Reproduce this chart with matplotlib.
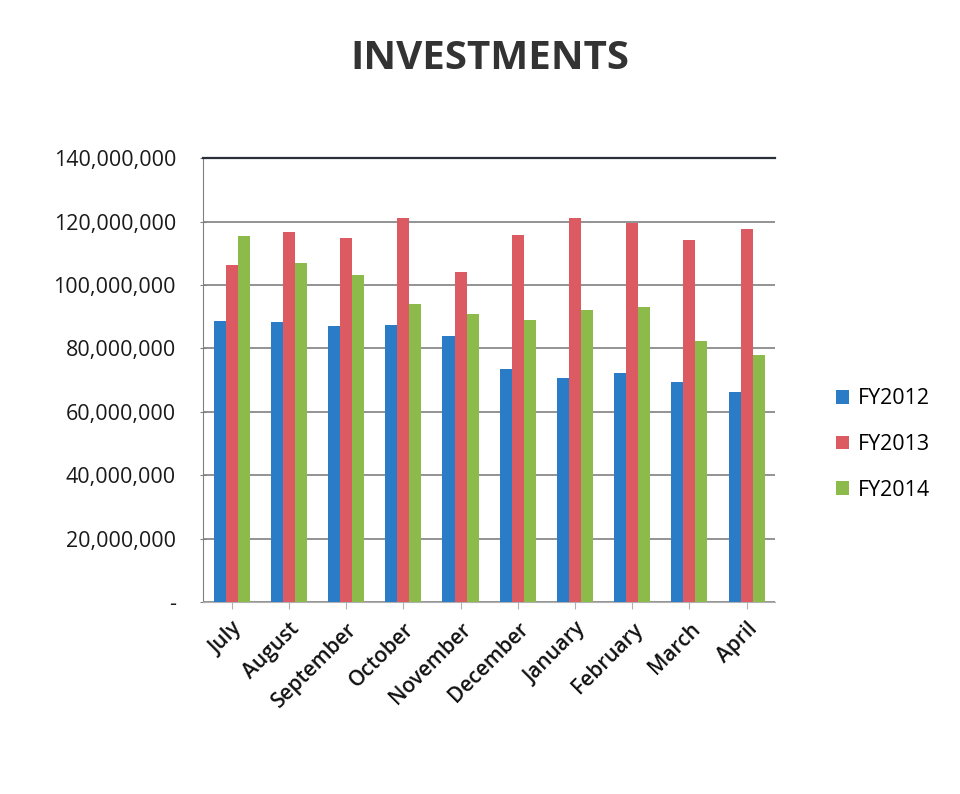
import matplotlib.pyplot as plt
import numpy as np
from matplotlib.ticker import FuncFormatter

months = ["July", "August", "September", "October", "November",
          "December", "January", "February", "March", "April"]
fy2012 = [88.7, 88.2, 87.0, 87.4, 83.9, 73.5, 70.7, 72.1, 69.3, 66.3]
fy2013 = [106.3, 116.6, 114.7, 121.0, 104.2, 115.9, 121.2, 119.6, 114.2, 117.5]
fy2014 = [115.4, 107.0, 103.1, 94.0, 90.7, 89.1, 92.0, 93.0, 82.4, 77.9]
series = [("FY2012", fy2012, "#2a7cc7"),
          ("FY2013", fy2013, "#dc5b63"),
          ("FY2014", fy2014, "#8cbb4b")]

plt.rcParams['font.family'] = ['Open Sans', 'DejaVu Sans']

fig = plt.figure(figsize=(9.6, 7.94), dpi=100)
ax = fig.add_axes([0.2115, 0.2418, 0.596, 0.559])

x = np.arange(len(months))
w = 0.21
for i, (name, vals, col) in enumerate(series):
    ax.bar(x + (i - 1) * w, np.array(vals) * 1e6, w, color=col, label=name, zorder=3)

ax.set_xlim(-0.5, len(months) - 0.5)
ax.set_ylim(0, 140e6)
ax.set_yticks(np.arange(0, 140e6 + 1, 20e6))
ax.yaxis.set_major_formatter(FuncFormatter(lambda v, p: "-" if v == 0 else f"{v:,.0f}"))
ax.grid(axis='y', color='#808080', linewidth=1.2, zorder=0)
ax.set_xticks(x)
ax.set_xticklabels(months, rotation=45, ha='right', rotation_mode='anchor',
                   fontsize=15, fontweight='semibold', color='#111111')
ax.tick_params(axis='y', labelsize=15.5, labelcolor='#1a1a1a', length=5,
               direction='inout', color='#808080', pad=17)
ax.tick_params(axis='x', length=5, color='#b0b0b0', pad=7)

ax.spines['right'].set_visible(False)
ax.spines['top'].set_color('#2b2f3a')
ax.spines['top'].set_linewidth(1.6)
ax.spines['left'].set_color('#808080')
ax.spines['bottom'].set_color('#b0b0b0')

fig.text(0.51, 0.926, "INVESTMENTS", ha='center', va='center', fontsize=29,
         fontweight='bold', color='#333333')

fig.legend(loc='center left', bbox_to_anchor=(0.862, 0.44), frameon=False,
           fontsize=15.5, handlelength=0.6, handleheight=0.6, labelspacing=1.15,
           handletextpad=0.4, borderaxespad=0)

fig.savefig("out.png", dpi=100)
